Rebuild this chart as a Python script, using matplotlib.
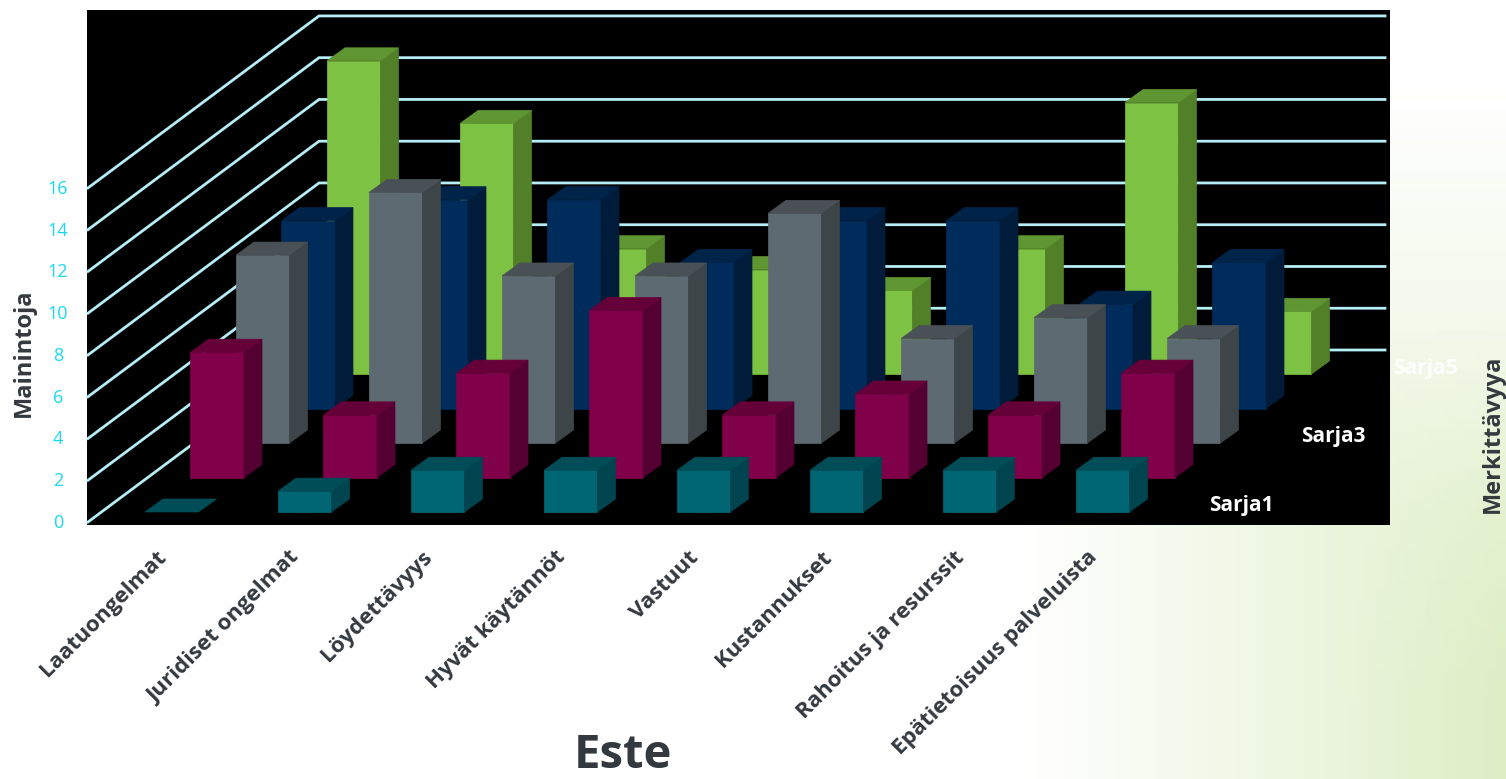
import numpy as np
import matplotlib
matplotlib.use("Agg")
import matplotlib.pyplot as plt
from matplotlib.patches import Polygon

categories = ["Laatuongelmat", "Juridiset ongelmat", "Löydettävyys", "Hyvät käytännöt",
              "Vastuut", "Kustannukset", "Rahoitus ja resurssit", "Epätietoisuus palveluista"]

# front to back
sarja1 = [0, 1, 2, 2, 2, 2, 2, 2]
sarja2 = [6, 3, 5, 8, 3, 4, 3, 5]
sarja3 = [9, 12, 8, 8, 11, 5, 6, 5]
sarja4 = [9, 10, 10, 7, 9, 9, 5, 7]
sarja5 = [15, 12, 6, 5, 4, 6, 13, 3]

y_ticks = [0, 2, 4, 6, 8, 10, 12, 14, 16]

# front, side, top
colors = [("#006674", "#00444f", "#004d58"),
          ("#80004a", "#550033", "#660039"),
          ("#5e6a72", "#3e4548", "#4a5156"),
          ("#002c5c", "#001c3a", "#00234a"),
          ("#7dc242", "#518029", "#5f9632")]

# oblique projection, in picture pixels
UNIT = 20.88
CAT_W = 133.0
SER_DX, SER_DY = 45.5, -34.5
BAR_W = 53.5
DEPTH_X, DEPTH_Y = 18, -13
WALL_X0, WALL_Y0 = 88, 522
WALL_DX, WALL_DY = 231, -172
WALL_END = 1385


def project(cat, ser, val):
    x = 145 + CAT_W * cat + SER_DX * ser
    y = 512 + SER_DY * ser - UNIT * val
    return x, y


def draw_bar(ax, cat, ser, val, cols):
    x, y0 = project(cat, ser, 0)
    _, y1 = project(cat, ser, val)
    front, side, top = cols
    if val > 0:
        ax.add_patch(Polygon([(x, y0), (x + BAR_W, y0), (x + BAR_W, y1), (x, y1)],
                             fc=front, ec=front, lw=0.5, zorder=3))
        ax.add_patch(Polygon([(x + BAR_W, y0), (x + BAR_W + DEPTH_X, y0 + DEPTH_Y),
                              (x + BAR_W + DEPTH_X, y1 + DEPTH_Y), (x + BAR_W, y1)],
                             fc=side, ec=side, lw=0.5, zorder=3))
    ax.add_patch(Polygon([(x, y1), (x + BAR_W, y1), (x + BAR_W + DEPTH_X, y1 + DEPTH_Y),
                          (x + DEPTH_X, y1 + DEPTH_Y)], fc=top, ec=top, lw=0.5, zorder=3))


plt.rcParams["font.family"] = ["Open Sans", "DejaVu Sans"]
fig = plt.figure(figsize=(15.06, 7.79), dpi=100)
ax = fig.add_axes([0, 0, 1, 1])
ax.set_xlim(0, 1506)
ax.set_ylim(779, 0)
ax.set_axis_off()

# pale green slide background
gx, gy = np.meshgrid(np.linspace(0, 1, 151), np.linspace(0, 1, 78))
fade = np.clip((gx - 0.68) / 0.2, 0, 1) * np.clip((gy - 0.1) / 0.55, 0, 1) * 0.55
fade = fade + 0.4 * np.clip((gx - 0.88) / 0.12, 0, 1) * np.clip((gy - 0.4) / 0.5, 0, 1)
fade = np.clip(fade, 0, 1)[..., None]
bg = (1 - fade) * np.array([1.0, 1.0, 1.0]) + fade * np.array([0.86, 0.93, 0.76])
ax.imshow(bg, extent=(0, 1506, 779, 0), aspect="auto", zorder=0)

ax.add_patch(Polygon([(87, 10), (1390, 10), (1390, 525), (87, 525)], fc="black", ec="none", zorder=1))

# walls
line_col = "#b5eef6"
for t in y_ticks:
    y = WALL_Y0 - UNIT * t
    ax.plot([WALL_X0, WALL_X0 + WALL_DX, WALL_END], [y, y + WALL_DY, y + WALL_DY],
            color=line_col, lw=2, zorder=2, solid_joinstyle="miter")
    ax.text(58, y + 1, str(t), color="#19d9f0", fontsize=13, ha="center", va="center", zorder=5)

# bars, back series first
series = [sarja1, sarja2, sarja3, sarja4, sarja5]
for s in range(4, -1, -1):
    for c, v in enumerate(series[s]):
        draw_bar(ax, c, s, v, colors[s])

for c, name in enumerate(categories):
    ax.text(156 + CAT_W * c, 547, name, rotation=45, ha="right", va="top", rotation_mode="anchor",
            color="#33393e", fontsize=16, fontweight="bold", zorder=5)

ax.text(1241, 505, "Sarja1", color="white", fontsize=15, fontweight="bold", ha="center", va="center", zorder=5)
ax.text(1333, 436, "Sarja3", color="white", fontsize=15, fontweight="bold", ha="center", va="center", zorder=5)
ax.text(1425, 368, "Sarja5", color="white", fontsize=15, fontweight="bold", ha="center", va="center", zorder=5)

ax.text(24, 353, "Mainintoja", rotation=90, color="#33393e", fontsize=17, fontweight="bold", ha="center", va="center")
ax.text(1493, 434, "Merkittävyya", rotation=90, color="#33393e", fontsize=17, fontweight="bold", ha="center", va="center")
ax.text(623, 768, "Este", color="#33393e", fontsize=34, fontweight="bold", ha="center", va="baseline")

fig.savefig("out.png", dpi=100)
